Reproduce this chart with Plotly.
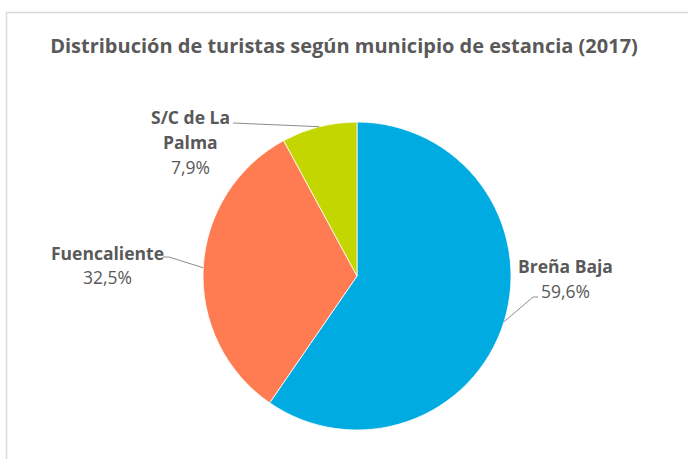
import math
import plotly.graph_objects as go

# ---- data ----
labels = ["Breña Baja", "Fuencaliente", "S/C de La Palma"]
label_lines = [["Breña Baja"], ["Fuencaliente"], ["S/C de La", "Palma"]]
values = [59.6, 32.5, 7.9]
colors = ["#00ABE1", "#FF7B52", "#C4D600"]
title_text = "Distribución de turistas según municipio de estancia (2017)"

# ---- layout constants (pixels) ----
W, H = 688, 459
CX, CY, R = 357, 276, 154
FONT = "Open Sans"
TXT = "#595959"
LINE = "#8C8C8C"
# label block: center x, first line y, line spacing, leader elbow points
label_cfg = [
    dict(x=565.5, y=266, dy=25, elbow=[(533, 297), (538, 297)]),
    dict(x=107.5, y=253, dy=24, elbow=[(169, 257), (163, 257)]),
    dict(x=190.0, y=117, dy=25, elbow=[(233, 123)]),
]


def px(x):
    return x / W


def py(y):
    return 1 - y / H


fig = go.Figure(
    go.Pie(
        labels=labels,
        values=values,
        sort=False,
        direction="clockwise",
        rotation=0,
        marker=dict(colors=colors, line=dict(color="white", width=0.8)),
        textinfo="none",
        hoverinfo="label+percent",
        showlegend=False,
        domain=dict(x=[px(CX - R), px(CX + R)], y=[py(CY + R), py(CY - R)]),
    )
)

annotations = []
shapes = []
total = sum(values)
cum = 0.0
for lab_lines, v, cfg in zip(label_lines, values, label_cfg):
    mid = (cum + v / 2) / total * 2 * math.pi
    cum += v
    ex = CX + R * math.sin(mid)
    ey = CY - R * math.cos(mid)
    pts = [(ex, ey)] + cfg["elbow"]
    path = "M " + " L ".join(f"{px(a)},{py(b)}" for a, b in pts)
    shapes.append(dict(type="path", xref="paper", yref="paper", path=path,
                       line=dict(color=LINE, width=1)))
    y = cfg["y"]
    for ln in lab_lines:
        annotations.append(dict(x=px(cfg["x"]), y=py(y), xref="paper", yref="paper",
                                text=f"<b>{ln}</b>", showarrow=False,
                                xanchor="center", yanchor="middle",
                                font=dict(family=FONT, size=17.5, color=TXT)))
        y += cfg["dy"]
    pct = f"{v / total * 100:.1f}".replace(".", ",") + "%"
    annotations.append(dict(x=px(cfg["x"]), y=py(y), xref="paper", yref="paper",
                            text=pct, showarrow=False,
                            xanchor="center", yanchor="middle",
                            font=dict(family=FONT, size=17.5, color=TXT)))

# chart border
shapes.append(dict(type="rect", xref="paper", yref="paper",
                   x0=px(6.5), x1=1.2, y0=-0.2, y1=py(12.5),
                   line=dict(color="#D9D9D9", width=1.5)))

fig.update_layout(
    width=W, height=H,
    margin=dict(l=0, r=0, t=0, b=0),
    paper_bgcolor="white", plot_bgcolor="white",
    title=dict(text=f"<b>{title_text}</b>", x=0.5, xanchor="center",
               y=py(46), yanchor="middle",
               font=dict(family=FONT, size=20, color=TXT)),
    annotations=annotations,
    shapes=shapes,
)

fig.write_html(
    "out.html",
    config={"displayModeBar": False},
    post_script="document.body.style.margin='0';document.body.style.overflow='hidden';",
)
